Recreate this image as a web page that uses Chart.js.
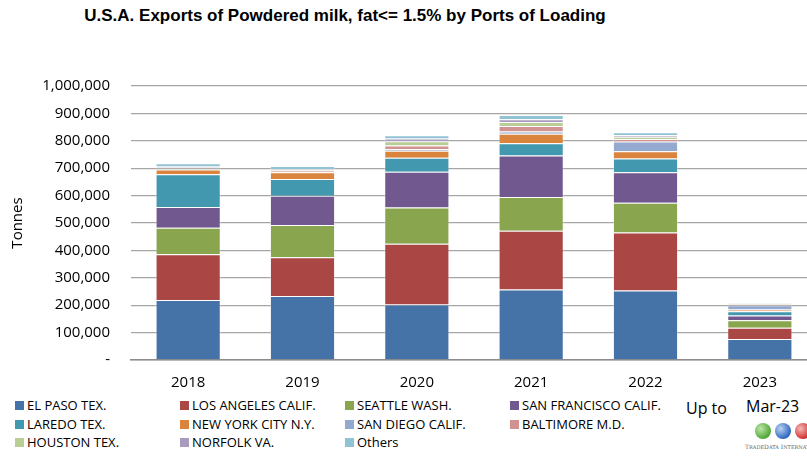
<!DOCTYPE html>
<html>
<head>
<meta charset="utf-8">
<script src="https://cdn.jsdelivr.net/npm/chart.js@4/dist/chart.umd.min.js"></script>
<style>
  html, body { margin: 0; padding: 0; width: 807px; height: 457px; overflow: hidden; background: #fff; }
  body { position: relative; font-family: "Open Sans", "Liberation Sans", sans-serif; color: #000; }
  #title { position: absolute; left: 0; width: 690px; top: 6px; text-align: center;
           font-family: "Liberation Sans Narrow", "Liberation Sans", sans-serif; font-weight: bold; font-size: 17px; }
  #wrap { position: absolute; left: 0; top: 0; width: 817px; height: 395px; }
  #legend { position: absolute; left: 0; top: 0; }
  .item { position: absolute; font-size: 13px; white-space: nowrap; line-height: 16px; }
  .item span.box { display: inline-block; width: 9px; height: 9px; margin-right: 3px; vertical-align: 0px; }
  #upto { position: absolute; left: 686px; top: 397px; font-size: 16px; }
  #mar { position: absolute; left: 746px; top: 395px; font-size: 16px; }
  #logo { position: absolute; left: 745px; top: 423px; width: 70px; height: 34px; }
  .globe { position: absolute; top: 0; width: 16px; height: 16px; border-radius: 50%; }
  #logotext { position: absolute; left: 0; top: 20px; font-family: "DejaVu Serif", serif; font-size: 6px; color: #666; white-space: nowrap; }
</style>
</head>
<body>
<div id="title">U.S.A. Exports of Powdered milk, fat&lt;= 1.5% by Ports of Loading</div>
<div id="wrap"><canvas id="myChart"></canvas></div>
<div id="legend"></div>
<div id="upto">Up to</div>
<div id="mar">Mar-23</div>
<div id="logo">
  <div class="globe" style="left:10px;background:radial-gradient(circle at 35% 35%, #bfe6a8, #4fa637 70%);"></div>
  <div class="globe" style="left:30px;background:radial-gradient(circle at 35% 35%, #b9d3f2, #2f66bf 70%);"></div>
  <div class="globe" style="left:50px;background:radial-gradient(circle at 35% 35%, #f4b9b9, #d22f2f 70%);"></div>
  <div id="logotext">T<span style="font-size:5px">RADE</span>D<span style="font-size:5px">ATA</span> I<span style="font-size:5px">NTERNATIONAL</span></div>
</div>
<script>
// Años y puertos
const years = ['2018', '2019', '2020', '2021', '2022', '2023'];

const elPaso       = [219000, 234000, 203000, 257000, 254000, 77000];
const losAngeles   = [167000, 141000, 221000, 215000, 211000, 41000];
const seattle      = [97000, 118000, 133000, 123000, 109000, 27000];
const sanFrancisco = [75000, 106000, 130000, 151000, 111000, 17000];
const laredo       = [120000, 62000, 51000, 45000, 50000, 16000];
const newYork      = [17000, 24000, 26000, 35000, 27000, 6000];
const sanDiego     = [2000, 2000, 5000, 8000, 35000, 16000];
const baltimore    = [2000, 5000, 14000, 20000, 10000, 3000];
const houston      = [4000, 2000, 15000, 15000, 8000, 1000];
const norfolk      = [3000, 2000, 10000, 10000, 5000, 1000];
const others       = [12000, 12000, 12000, 15000, 11000, 2000];

const portNames = ['EL PASO TEX.', 'LOS ANGELES CALIF.', 'SEATTLE WASH.', 'SAN FRANCISCO CALIF.',
                   'LAREDO TEX.', 'NEW YORK CITY N.Y.', 'SAN DIEGO CALIF.', 'BALTIMORE M.D.',
                   'HOUSTON TEX.', 'NORFOLK VA.', 'Others'];
const portValues = [elPaso, losAngeles, seattle, sanFrancisco, laredo, newYork,
                    sanDiego, baltimore, houston, norfolk, others];
const portColors = ['#4572A7', '#AA4643', '#89A54E', '#71588F', '#4198AF', '#DB843D',
                    '#93A9CF', '#D19392', '#B9CD96', '#A99BBD', '#92C3D5'];

const yTicksMax = 1000000;
const yTicksStep = 100000;

const datasets = portNames.map((name, i) => ({
    label: name,
    data: portValues[i],
    backgroundColor: portColors[i],
    borderColor: 'rgba(255,255,255,0.35)',
    borderWidth: 1,
    barPercentage: 0.57,
    categoryPercentage: 1.0
}));

// leyenda en html (4 columnas)
const legendEl = document.getElementById('legend');
const colX = [15, 180, 345, 510];
const rowY = [397, 416, 434];
portNames.forEach((name, i) => {
    const item = document.createElement('div');
    item.className = 'item';
    item.style.left = colX[i % 4] + 'px';
    item.style.top = rowY[Math.floor(i / 4)] + 'px';
    item.innerHTML = '<span class="box" style="background:' + portColors[i] + '"></span>' + name;
    legendEl.appendChild(item);
});

const config = {
    type: 'bar',
    data: { labels: years, datasets: datasets },
    options: {
        responsive: true,
        maintainAspectRatio: false,
        animation: false,
        layout: { padding: { top: 86, left: 0, right: 0, bottom: 0 } },
        plugins: {
            legend: { display: false },
            tooltip: { enabled: false }
        },
        scales: {
            x: {
                stacked: true,
                afterFit: axis => { axis.height = 35; },
                grid: { display: false, drawTicks: false },
                border: { display: true, color: '#8c8c8c', width: 1.5 },
                ticks: { color: '#000', padding: 14, font: { family: '"Open Sans"', size: 15 } }
            },
            y: {
                stacked: true,
                min: 0,
                max: yTicksMax,
                afterFit: axis => { axis.width = 131; },
                border: { display: false },
                grid: { color: '#a6a6a6', lineWidth: 1.3, drawTicks: false },
                title: { display: true, text: 'Tonnes', color: '#000', padding: { top: 9, bottom: 0 },
                         font: { family: '"Open Sans"', size: 15 } },
                ticks: {
                    stepSize: yTicksStep,
                    padding: 21,
                    color: '#000',
                    font: { family: '"Open Sans"', size: 15 },
                    callback: v => v === 0 ? '-' : v.toLocaleString('en-US')
                }
            }
        }
    }
};

const myChart = new Chart(document.getElementById('myChart'), config);
</script>
</body>
</html>
